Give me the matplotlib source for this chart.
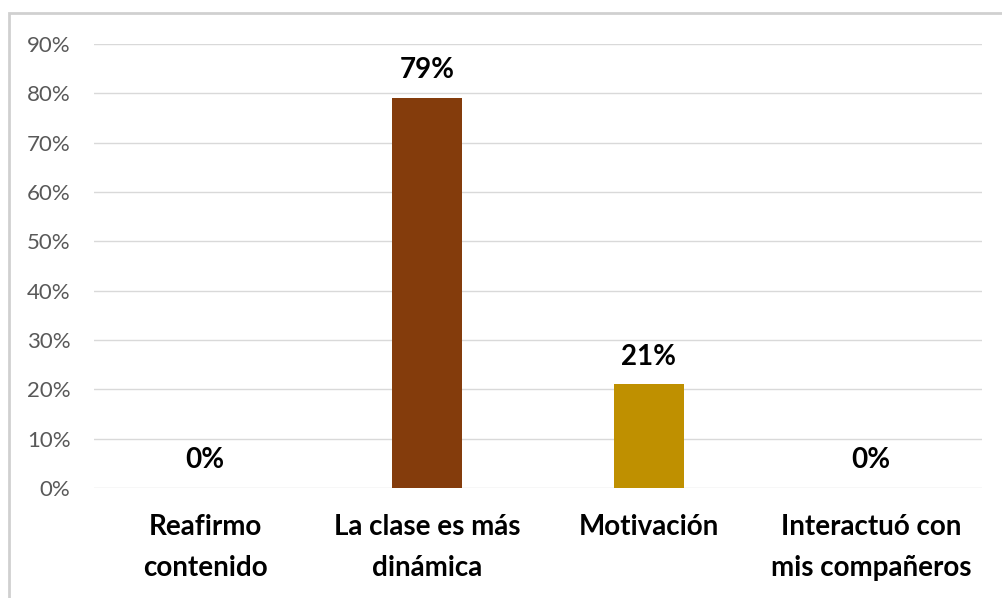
import matplotlib.pyplot as plt
from matplotlib.patches import Rectangle

categories = ["Reafirmo\ncontenido", "La clase es más\ndinámica", "Motivación", "Interactuó con\nmis compañeros"]
values = [0, 79, 21, 0]
colors = ["#843C0C", "#843C0C", "#BF9000", "#BF9000"]
yticks = [0, 10, 20, 30, 40, 50, 60, 70, 80, 90]

plt.rcParams['font.family'] = ['Lato', 'DejaVu Sans']

fig = plt.figure(figsize=(10.03, 5.98), dpi=100)
ax = fig.add_axes([94 / 1003, 1 - 488 / 598, 888 / 1003, 444 / 598])

x = range(len(categories))
ax.bar(x, values, width=0.315, color=colors, zorder=2)
for xi, v in zip(x, values):
    ax.text(xi, v + 3.0, f"{v}%", ha="center", va="bottom", fontsize=20,
            fontweight="bold", color="black")

ax.set_xlim(-0.5, len(categories) - 0.5)
ax.set_ylim(0, 90)
ax.set_yticks(yticks)
ax.set_yticklabels([f"{t}%" for t in yticks], fontsize=16, color="#595959")
ax.set_xticks(list(x))
ax.set_xticklabels(categories, fontsize=20, fontweight="bold", color="black",
                   linespacing=1.68)
ax.tick_params(axis="both", length=0)
ax.tick_params(axis="y", pad=17)
ax.tick_params(axis="x", pad=19)
ax.grid(axis="y", color="#D9D9D9", linewidth=1, zorder=0)
for s in ax.spines.values():
    s.set_visible(False)

# light frame around the chart area (right and bottom edges run off the image)
fig.patches.append(Rectangle((9.5 / 1003, -0.05), 1.1, 1 - 13 / 598 + 0.05,
                             transform=fig.transFigure, fill=False,
                             edgecolor="#D0D0D0", linewidth=2))

fig.savefig("out.png", dpi=100)
